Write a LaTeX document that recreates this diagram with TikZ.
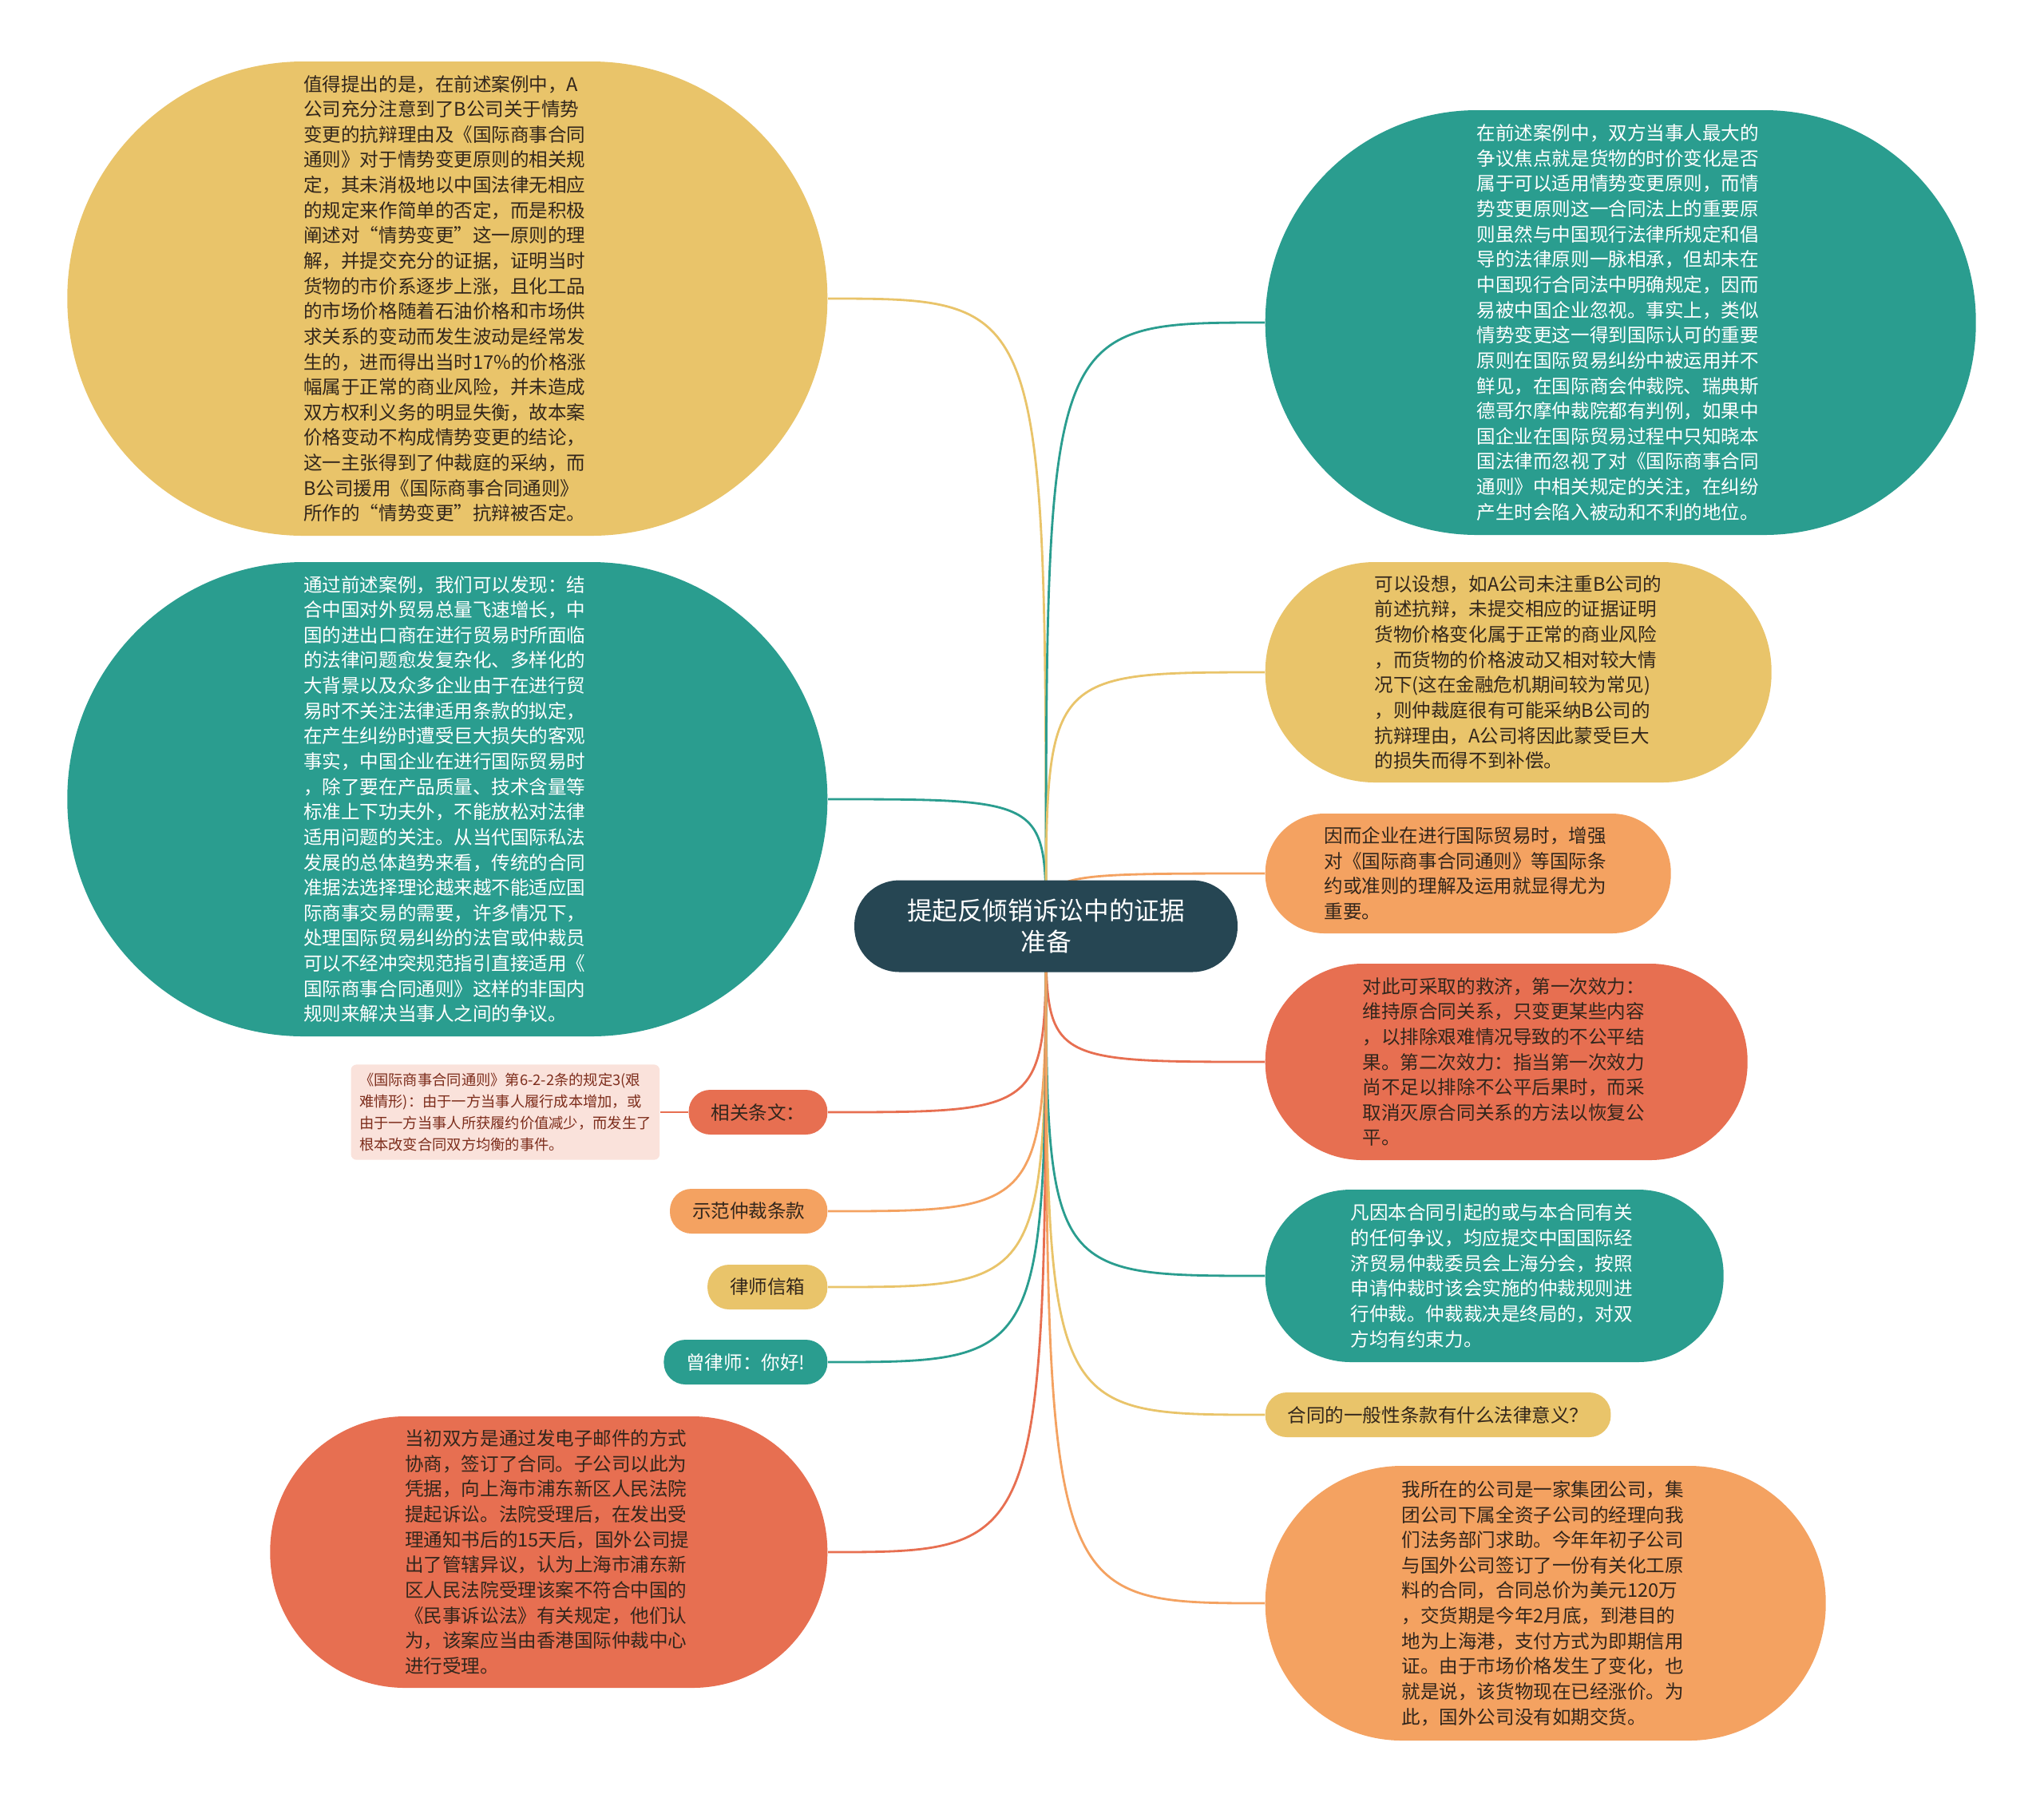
\documentclass[tikz,border=0pt]{standalone}
\usepackage{fontspec}
\setmainfont{Noto Sans CJK SC}
\usepackage{xcolor}
\usepackage{tikz}
\usetikzlibrary{positioning, backgrounds}
\definecolor{jaunemoutarde}{RGB}{233, 196, 106}
\definecolor{sarcelle}{RGB}{42, 157, 143}
\definecolor{orangeclair}{RGB}{244, 162, 97}
\definecolor{corail}{RGB}{231, 111, 81}
\definecolor{bleunuit}{RGB}{38, 70, 83}
\definecolor{rosepale}{RGB}{250, 226, 219}
\definecolor{brunsombre}{RGB}{50, 38, 28}
\definecolor{brunrouge}{RGB}{125, 45, 28}

\begin{document}
\begin{tikzpicture}[
    bulle/.style={rectangle, minimum height=2*#1cm+0.02cm, inner xsep=#1cm, inner ysep=2pt,
      rounded corners=#1cm, text width=3.6cm, align=left,
      font=\fontsize{6.7pt}{9pt}\selectfont, text=brunsombre},
    etiquette/.style={rectangle, minimum height=0.56cm, inner xsep=0.28cm, inner ysep=0pt,
      rounded corners=0.27cm, font=\fontsize{6.7pt}{9pt}\selectfont, text=brunsombre},
    lien/.style={line width=0.8pt}
  ]
    \begin{pgfonlayer}{background}
      \fill[white] (0,0) rectangle (25.6,-22.56);
    \end{pgfonlayer}
    \useasboundingbox (0,0) rectangle (25.6,-22.56);

    % noeud central
    \node[rectangle, rounded corners=0.565cm, fill=bleunuit, text=white, minimum height=1.15cm,
      inner xsep=0.66cm, align=center, font=\fontsize{9pt}{11.2pt}\selectfont] (racine) at (13.10,-11.60)
      {提起反倾销诉讼中的证据\\准备};

    % branches de gauche
    \node[bulle=2.96, fill=jaunemoutarde, anchor=east] (valeur) at (10.37,-3.74)
      {值得提出的是，在前述案例中，A\\公司充分注意到了B公司关于情势\\变更的抗辩理由及《国际商事合同\\通则》对于情势变更原则的相关规\\定，其未消极地以中国法律无相应\\的规定来作简单的否定，而是积极\\阐述对“情势变更”这一原则的理\\解，并提交充分的证据，证明当时\\货物的市价系逐步上涨，且化工品\\的市场价格随着石油价格和市场供\\求关系的变动而发生波动是经常发\\生的，进而得出当时17\%的价格涨\\幅属于正常的商业风险，并未造成\\双方权利义务的明显失衡，故本案\\价格变动不构成情势变更的结论，\\这一主张得到了仲裁庭的采纳，而\\B公司援用《国际商事合同通则》\\所作的“情势变更”抗辩被否定。};
    \node[bulle=2.96, fill=sarcelle, text=white, anchor=east] (apercu) at (10.37,-10.01)
      {通过前述案例，我们可以发现：结\\合中国对外贸易总量飞速增长，中\\国的进出口商在进行贸易时所面临\\的法律问题愈发复杂化、多样化的\\大背景以及众多企业由于在进行贸\\易时不关注法律适用条款的拟定，\\在产生纠纷时遭受巨大损失的客观\\事实，中国企业在进行国际贸易时\\，除了要在产品质量、技术含量等\\标准上下功夫外，不能放松对法律\\适用问题的关注。从当代国际私法\\发展的总体趋势来看，传统的合同\\准据法选择理论越来越不能适应国\\际商事交易的需要，许多情况下，\\处理国际贸易纠纷的法官或仲裁员\\可以不经冲突规范指引直接适用《\\国际商事合同通则》这样的非国内\\规则来解决当事人之间的争议。};
    \node[etiquette, fill=corail, anchor=east] (articles) at (10.37,-13.93) {相关条文：};
    \node[etiquette, fill=orangeclair, anchor=east] (clause) at (10.37,-15.17) {示范仲裁条款};
    \node[etiquette, fill=jaunemoutarde, anchor=east] (boite) at (10.37,-16.12) {律师信箱};
    \node[etiquette, fill=sarcelle, text=white, anchor=east] (salut) at (10.37,-17.06) {曾律师：你好!};
    \node[bulle=1.69, fill=corail, anchor=east] (litige) at (10.37,-19.44)
      {当初双方是通过发电子邮件的方式\\协商，签订了合同。子公司以此为\\凭据，向上海市浦东新区人民法院\\提起诉讼。法院受理后，在发出受\\理通知书后的15天后，国外公司提\\出了管辖异议，认为上海市浦东新\\区人民法院受理该案不符合中国的\\《民事诉讼法》有关规定，他们认\\为，该案应当由香港国际仲裁中心\\进行受理。};

    % extrait du texte
    \node[fill=rosepale, rounded corners=2pt, inner xsep=3pt, inner ysep=3pt, align=left,
      font=\fontsize{5.2pt}{7.7pt}\selectfont, text=brunrouge, left=0.35cm of articles] (extrait)
      {《国际商事合同通则》第6-2-2条的规定3(艰\\难情形)：由于一方当事人履行成本增加，或\\由于一方当事人所获履约价值减少，而发生了\\根本改变合同双方均衡的事件。};
    \draw[lien, corail] (extrait) -- (articles);

    % branches de droite
    \node[bulle=2.65, fill=sarcelle, text=white, anchor=west] (controverse) at (15.84,-4.04)
      {在前述案例中，双方当事人最大的\\争议焦点就是货物的时价变化是否\\属于可以适用情势变更原则，而情\\势变更原则这一合同法上的重要原\\则虽然与中国现行法律所规定和倡\\导的法律原则一脉相承，但却未在\\中国现行合同法中明确规定，因而\\易被中国企业忽视。事实上，类似\\情势变更这一得到国际认可的重要\\原则在国际贸易纠纷中被运用并不\\鲜见，在国际商会仲裁院、瑞典斯\\德哥尔摩仲裁院都有判例，如果中\\国企业在国际贸易过程中只知晓本\\国法律而忽视了对《国际商事合同\\通则》中相关规定的关注，在纠纷\\产生时会陷入被动和不利的地位。};
    \node[bulle=1.37, fill=jaunemoutarde, anchor=west] (hypothese) at (15.84,-8.42)
      {可以设想，如A公司未注重B公司的\\前述抗辩，未提交相应的证据证明\\货物价格变化属于正常的商业风险\\，而货物的价格波动又相对较大情\\况下(这在金融危机期间较为常见)\\，则仲裁庭很有可能采纳B公司的\\抗辩理由，A公司将因此蒙受巨大\\的损失而得不到补偿。};
    \node[bulle=0.74, fill=orangeclair, anchor=west] (conseil) at (15.84,-10.94)
      {因而企业在进行国际贸易时，增强\\对《国际商事合同通则》等国际条\\约或准则的理解及运用就显得尤为\\重要。};
    \node[bulle=1.22, fill=corail, anchor=west] (remede) at (15.84,-13.30)
      {对此可采取的救济，第一次效力：\\维持原合同关系，只变更某些内容\\，以排除艰难情况导致的不公平结\\果。第二次效力：指当第一次效力\\尚不足以排除不公平后果时，而采\\取消灭原合同关系的方法以恢复公\\平。};
    \node[bulle=1.07, fill=sarcelle, text=white, anchor=west] (arbitrage) at (15.84,-15.98)
      {凡因本合同引起的或与本合同有关\\的任何争议，均应提交中国国际经\\济贸易仲裁委员会上海分会，按照\\申请仲裁时该会实施的仲裁规则进\\行仲裁。仲裁裁决是终局的，对双\\方均有约束力。};
    \node[etiquette, fill=jaunemoutarde, anchor=west] (question) at (15.84,-17.72) {合同的一般性条款有什么法律意义？};
    \node[bulle=1.71, fill=orangeclair, anchor=west] (contexte) at (15.84,-20.08)
      {我所在的公司是一家集团公司，集\\团公司下属全资子公司的经理向我\\们法务部门求助。今年年初子公司\\与国外公司签订了一份有关化工原\\料的合同，合同总价为美元120万\\，交货期是今年2月底，到港目的\\地为上海港，支付方式为即期信用\\证。由于市场价格发生了变化，也\\就是说，该货物现在已经涨价。为\\此，国外公司没有如期交货。};

    % liens
    \begin{pgfonlayer}{background}
      \foreach \cible/\teinte in {valeur/jaunemoutarde, apercu/sarcelle, articles/corail, clause/orangeclair,
          boite/jaunemoutarde, salut/sarcelle, litige/corail}
        \draw[lien, draw=\teinte] (racine.center) .. controls (racine.center |- \cible.east) .. (\cible.east);
      \foreach \cible/\teinte in {controverse/sarcelle, hypothese/jaunemoutarde, conseil/orangeclair, remede/corail,
          arbitrage/sarcelle, question/jaunemoutarde, contexte/orangeclair}
        \draw[lien, draw=\teinte] (racine.center) .. controls (racine.center |- \cible.west) .. (\cible.west);
    \end{pgfonlayer}
  \end{tikzpicture}
\end{document}
